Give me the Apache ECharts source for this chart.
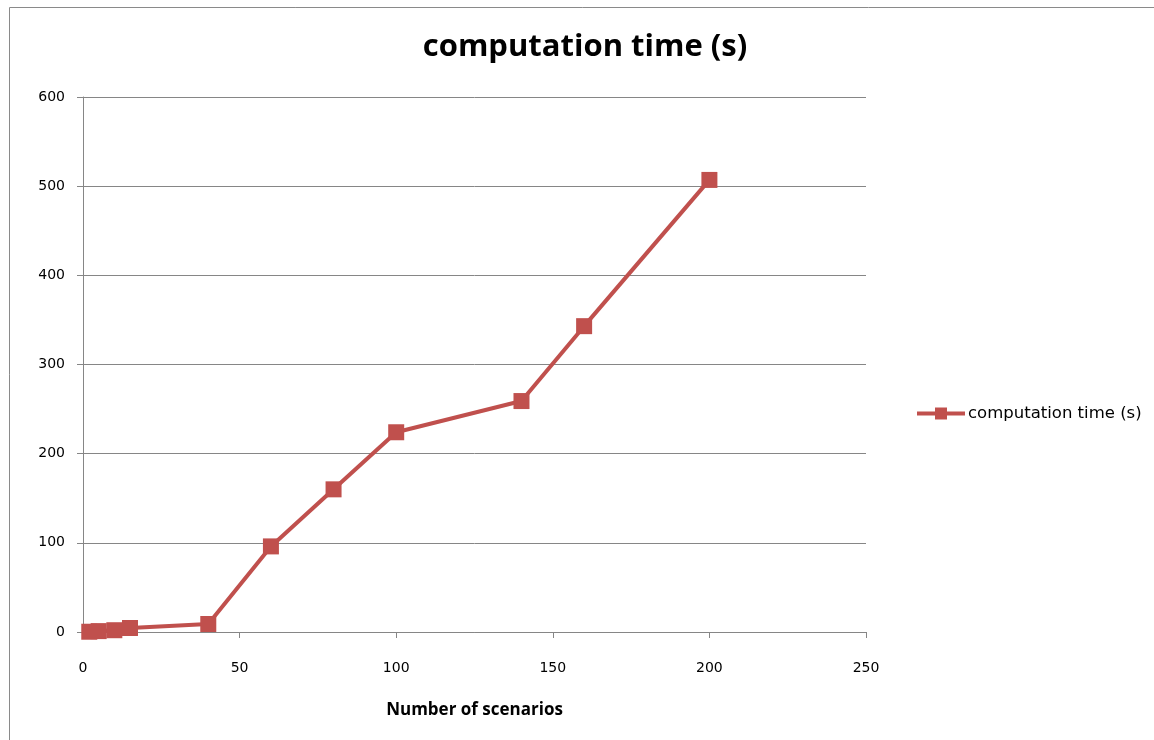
<!DOCTYPE html>
<html><head><meta charset="utf-8">
<script src="https://cdn.jsdelivr.net/npm/echarts@6/dist/echarts.min.js"></script>
<style>html,body{margin:0;padding:0;background:#fff}#c{width:1154px;height:740px}</style>
</head><body><div id="c"></div>
<script>
const seriesName = 'computation time (s)';
const scenarios = [2, 5, 10, 15, 40, 60, 80, 100, 140, 160, 200];
const timeSec = [0.3, 1, 2, 4.5, 9, 96, 160, 224, 259, 343, 507];
const xTicks = [0, 50, 100, 150, 200, 250];
const yTicks = [0, 100, 200, 300, 400, 500, 600];

const chart = echarts.init(document.getElementById('c'));
const axisGray = '#868686';
chart.setOption({
  animation: false,
  backgroundColor: '#fff',
  title: {
    text: seriesName, left: 580, top: 27, textAlign: 'center',
    textStyle: {fontFamily: 'Open Sans', fontWeight: 'bold', fontSize: 31, color: '#000'}
  },
  graphic: [{type: 'rect', shape: {x: 9.5, y: 7.5, width: 1300, height: 900},
    style: {fill: 'none', stroke: '#8a8a8a', lineWidth: 1}, silent: true}],
  legend: {
    left: 910, top: 400, itemWidth: 48, itemHeight: 15, itemGap: 4,
    data: [seriesName],
    lineStyle: {width: 4},
    textStyle: {fontFamily: 'DejaVu Sans', fontSize: 16.5, color: '#000', padding: [0,0,0,-2]}
  },
  grid: {left: 83, right: 288, top: 97, bottom: 108},
  xAxis: {
    type: 'value', min: xTicks[0], max: xTicks[xTicks.length-1], interval: 50,
    name: 'Number of scenarios', nameLocation: 'middle', nameGap: 70,
    nameTextStyle: {fontFamily: 'Open Sans', fontWeight: 'bold', fontSize: 17, color: '#000'},
    axisLine: {show: true, lineStyle: {color: axisGray, width: 1}},
    axisTick: {show: true, length: 6, lineStyle: {color: axisGray}},
    axisLabel: {margin: 29, fontFamily: 'DejaVu Sans', fontSize: 14, color: '#000'},
    splitLine: {show: false}
  },
  yAxis: {
    type: 'value', min: yTicks[0], max: yTicks[yTicks.length-1], interval: 100,
    axisLine: {show: true, lineStyle: {color: axisGray, width: 1}},
    axisTick: {show: true, length: 6, lineStyle: {color: axisGray}},
    axisLabel: {margin: 18, fontFamily: 'DejaVu Sans', fontSize: 14, color: '#000'},
    splitLine: {show: true, lineStyle: {color: axisGray, width: 1}}
  },
  series: [{
    name: seriesName, type: 'line',
    data: scenarios.map((x, i) => [x, timeSec[i]]),
    symbol: 'rect', symbolSize: 16, showAllSymbol: true,
    lineStyle: {color: '#C0504D', width: 4},
    itemStyle: {color: '#C0504D'}
  }]
});
</script></body></html>
